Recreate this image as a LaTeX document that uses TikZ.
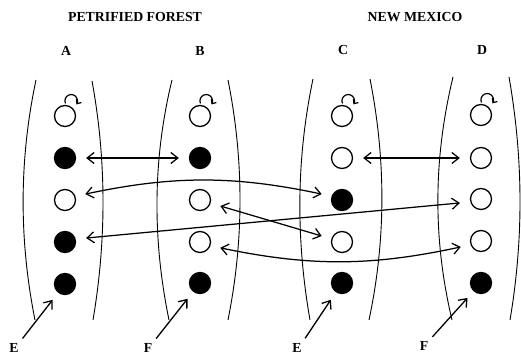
\documentclass[tikz,border=0pt]{standalone}
\usepackage{fontspec}
\setmainfont{Liberation Serif}
\usetikzlibrary{arrows.meta}

\begin{document}
\begin{tikzpicture}[x=1pt,y=1pt,
  lbl/.style={font=\bfseries\fontsize{13.8}{16}\selectfont, inner sep=0pt},
  dot/.style={circle, draw, line width=1.3pt, minimum size=21pt, inner sep=0pt},
  hollow/.style={dot, fill=white},
  full/.style={dot, fill=black},
  wall/.style={line width=0.9pt},
  barb/.tip={Straight Barb[length=7pt,width=11pt]},
  link/.style={line width=1.25pt, barb-barb, shorten <=10pt, shorten >=10pt},
  pointer/.style={line width=1.3pt, -barb, shorten >=9pt, shorten <=6pt},
  spin/.style={line width=1.2pt, -{Straight Barb[length=3.5pt,width=6pt]}}
]
\useasboundingbox (0,0) rectangle (521,355);

% headings
\node[lbl] (pf) at (135,338) {PETRIFIED FOREST};
\node[lbl] (nm) at (415,338) {NEW MEXICO};
\node[lbl] (la) at (66,304) {A};
\node[lbl] (lb) at (200,304) {B};
\node[lbl] (lc) at (343,305) {C};
\node[lbl] (ld) at (482,305) {D};

% curved side walls of each column
\draw[wall] (36,275) .. controls (19,195) and (19,115) .. (35,35);
\draw[wall] (92,274) .. controls (106.5,195) and (106.5,115) .. (93,35);
\draw[wall] (172,275) .. controls (152.5,195) and (152.5,115) .. (169,35);
\draw[wall] (228,275) .. controls (244,195) and (244,115) .. (228,35);
\draw[wall] (313,276) .. controls (296,195) and (296,115) .. (310,35);
\draw[wall] (370,276) .. controls (386,195) and (386,115) .. (369,35);
\draw[wall] (453,278) .. controls (433,195) and (433,115) .. (452,35);
\draw[wall] (509,278) .. controls (523.5,195) and (523.5,115) .. (510,35);

% column A
\node[hollow] (a1) at (65,239) {};
\node[full]   (a2) at (65,197) {};
\node[hollow] (a3) at (65,155) {};
\node[full]   (a4) at (65,113) {};
\node[full]   (a5) at (65,71) {};
% column B
\node[hollow] (b1) at (200,239) {};
\node[full]   (b2) at (200,197) {};
\node[hollow] (b3) at (200,155) {};
\node[hollow] (b4) at (200,113) {};
\node[full]   (b5) at (200,72) {};
% column C
\node[hollow] (c1) at (342,239) {};
\node[hollow] (c2) at (342,197) {};
\node[full]   (c3) at (342,155) {};
\node[hollow] (c4) at (342,113) {};
\node[full]   (c5) at (342,72) {};
% column D
\node[hollow] (d1) at (481,240) {};
\node[hollow] (d2) at (481,197) {};
\node[hollow] (d3) at (481,156) {};
\node[hollow] (d4) at (481,114) {};
\node[full]   (d5) at (481,72) {};

% small rotation arrows over the top sites
\foreach \n in {a1,b1,c1,d1}
  \draw[spin] ([shift={(0.5,12.5)}]\n.center) arc[start angle=205,end angle=-35,radius=6.3];

% links between sites
\draw[link] (a2) -- (b2);
\draw[link] (c2) -- (d2);
\draw[link] (a3.20) to[bend left=12] (c3.160);
\draw[link] (b3) -- (c4);
\draw[link] ([yshift=3pt]a4.east) -- ([yshift=-3pt]d3.west);
\draw[link] (b4.-20) to[bend right=12] (d4.200);

% bottom labels with pointers
\node[lbl] (e1) at (14,7) {E};
\node[lbl] (f1) at (148,7) {F};
\node[lbl] (e2) at (297,7) {E};
\node[lbl] (f2) at (424,9) {F};
\draw[pointer] (e1.north east) -- (a5);
\draw[pointer] (f1.north east) -- (b5);
\draw[pointer] (e2.north east) -- (c5);
\draw[pointer] (f2.north east) -- (d5);
\end{tikzpicture}
\end{document}
